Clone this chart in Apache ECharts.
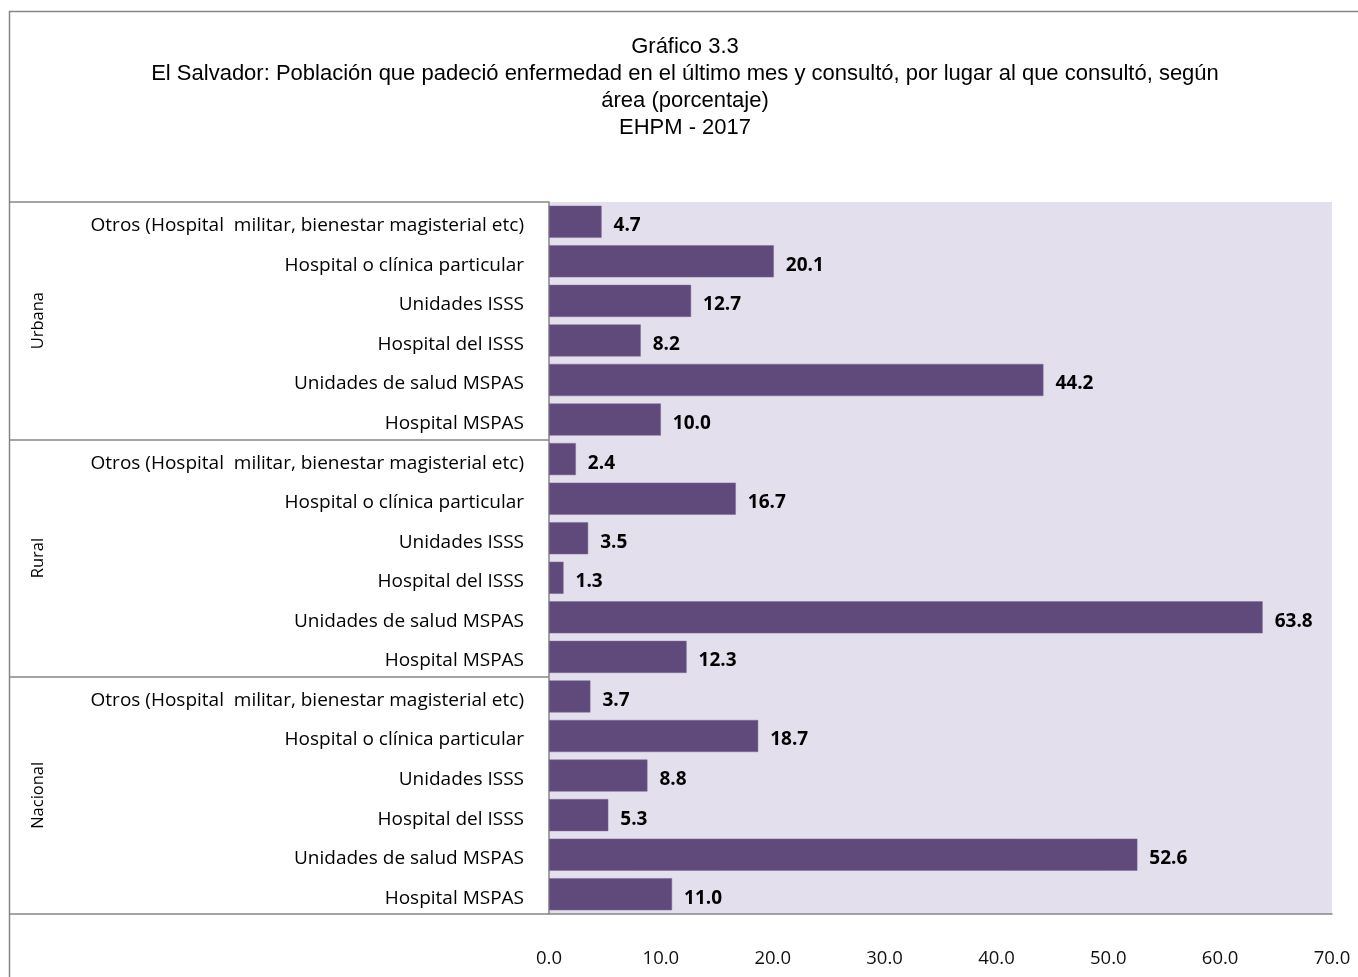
<!DOCTYPE html>
<html>
<head>
<meta charset="utf-8">
<script src="https://cdn.jsdelivr.net/npm/echarts@6/dist/echarts.min.js"></script>
<style>html,body{margin:0;padding:0;background:#fff;}#c{width:1358px;height:977px;}</style>
</head>
<body>
<div id="c"></div>
<script>
const titleLines = [
  "Gráfico 3.3",
  "El Salvador: Población que padeció enfermedad en el último mes y consultó, por lugar al que consultó, según",
  "área (porcentaje)",
  "EHPM - 2017"
];
const groups = ["Urbana", "Rural", "Nacional"];
const places = [
  "Otros (Hospital  militar, bienestar magisterial etc)",
  "Hospital o clínica particular",
  "Unidades ISSS",
  "Hospital del ISSS",
  "Unidades de salud MSPAS",
  "Hospital MSPAS"
];
const urbana = [4.7, 20.1, 12.7, 8.2, 44.2, 10.0];
const rural = [2.4, 16.7, 3.5, 1.3, 63.8, 12.3];
const nacional = [3.7, 18.7, 8.8, 5.3, 52.6, 11.0];
const xTicks = [0, 10, 20, 30, 40, 50, 60, 70];

const categories = [];
const values = [];
[urbana, rural, nacional].forEach(function (arr, gi) {
  arr.forEach(function (v, i) {
    categories.push(groups[gi] + "|" + i);
    values.push(v);
  });
});

const chart = echarts.init(document.getElementById('c'));
const gray = '#868686';
chart.setOption({
  animation: false,
  backgroundColor: '#ffffff',
  graphic: [{
    type: 'rect', left: 7, top: 9, shape: { width: 1400, height: 1000 },
    style: { fill: 'none', stroke: gray, lineWidth: 1.5 }, silent: true, z: -1
  }],
  title: {
    text: titleLines.join('\n'),
    left: 680, top: 28, textAlign: 'center',
    textStyle: { fontFamily: 'Liberation Sans Narrow, Liberation Sans, sans-serif', fontWeight: 'normal', fontSize: 22, lineHeight: 27, color: '#000' }
  },
  grid: { left: 549, right: 26, top: 202, bottom: 63, containLabel: false,
    show: true, backgroundColor: '#E4DFEC', borderWidth: 0 },
  xAxis: {
    type: 'value', min: xTicks[0], max: xTicks[xTicks.length - 1], interval: 10,
    axisLine: { show: true, lineStyle: { color: gray, width: 1.5 } },
    axisTick: { show: false },
    splitLine: { show: false },
    axisLabel: { margin: 35, fontFamily: 'Open Sans, sans-serif', fontSize: 18.5, color: '#111',
      formatter: function (v) { return v.toFixed(1); } }
  },
  yAxis: [{
    type: 'category', data: categories, inverse: true,
    axisLine: { show: true, lineStyle: { color: gray, width: 1.5 } },
    axisTick: { show: false },
    axisLabel: { margin: 25, color: '#000',
      formatter: function (v) { return '{a|' + places[+v.split('|')[1]] + '}'; },
      rich: { a: { fontFamily: 'Open Sans, sans-serif', fontSize: 19, color: '#000', padding: [8, 0, 0, 0] } } }
  }, {
    type: 'category', data: groups, inverse: true, position: 'left', offset: 0,
    axisLine: { show: false },
    axisTick: { show: true, length: 540, lineStyle: { color: gray, width: 1.5 } },
    axisLabel: { rotate: 90, margin: 502, fontFamily: 'Open Sans, sans-serif', fontSize: 16.5, color: '#000' }
  }],
  series: [{
    type: 'bar', data: values, yAxisIndex: 0, barCategoryGap: '19%',
    itemStyle: { color: '#604A7B', borderColor: '#7A6796', borderWidth: 0.5 },
    label: { show: true, position: 'right', distance: 12, offset: [0, 4], fontFamily: 'Open Sans, sans-serif',
      fontWeight: 'bold', fontSize: 19, color: '#000',
      formatter: function (p) { return p.value.toFixed(1); } }
  }]
});
</script>
</body>
</html>
